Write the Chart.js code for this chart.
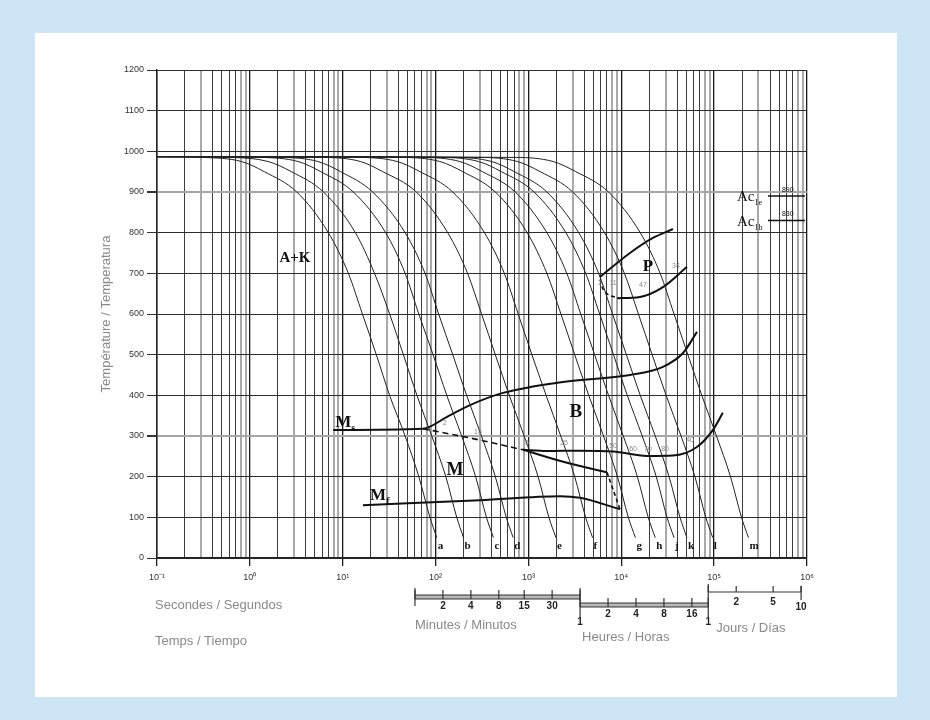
<!DOCTYPE html>
<html>
<head>
<meta charset="utf-8">
<script src="https://cdn.jsdelivr.net/npm/chart.js@4.4.1/dist/chart.umd.min.js"></script>
<style>
  html, body { margin: 0; padding: 0; }
  body { width: 930px; height: 720px; background: #cde5f5; position: relative; overflow: hidden; }
  #panel { position: absolute; left: 35px; top: 33px; width: 862px; height: 664px; background: #fff; }
  #wrap { position: absolute; left: 0; top: 0; width: 930px; height: 720px; }
</style>
</head>
<body>
<div id="panel"></div>
<div id="wrap"><canvas id="cct" width="930" height="720"></canvas></div>
<script>
// temperatures (°C) shared by all cooling curves
const coolTemps = [987, 985, 975, 950, 900, 800, 700, 600, 500, 400, 300, 200, 100, 50];

// times (s) of each cooling curve at those temperatures
const curveNames = ['a', 'b', 'c', 'd', 'e', 'f', 'g', 'h', 'j', 'k', 'l', 'm'];
const curveA = [0.1, 0.32, 0.81, 1.43, 3.2, 7.0, 11.5, 16.3, 23, 32, 47, 66, 87, 103];
const curveB = [0.1, 0.63, 1.57, 2.8, 6.2, 13.7, 22, 32, 45, 63, 91, 129, 169, 200];
const curveC = [0.1, 1.3, 3.3, 5.8, 13, 29, 47, 66, 94, 132, 191, 270, 353, 420];
const curveD = [0.1, 2.2, 5.4, 9.5, 21, 47, 77, 108, 153, 216, 312, 440, 577, 685];
const curveE = [0.1, 6.2, 15.5, 27, 62, 135, 221, 313, 440, 622, 900, 1270, 1660, 1980];
const curveF = [0.1, 15, 38.5, 68, 153, 336, 550, 776, 1090, 1550, 2230, 3150, 4130, 4910];
const curveG = [0.1, 44, 111, 196, 440, 970, 1580, 2240, 3150, 4460, 6440, 9100, 11900, 14200];
const curveH = [0.1, 73, 182, 320, 720, 1580, 2590, 3660, 5160, 7290, 10500, 14900, 19500, 23200];
const curveJ = [0.1, 116, 290, 512, 1150, 2530, 4140, 5850, 8240, 11600, 16800, 23800, 31100, 37000];
const curveK = [0.1, 160, 400, 705, 1580, 3480, 5700, 8050, 11350, 16000, 23200, 32700, 42900, 50900];
const curveL = [0.1, 300, 760, 1340, 3000, 6600, 10800, 15300, 21500, 30400, 44000, 62100, 81300, 96600];
const curveM = [0.1, 740, 1840, 3240, 7280, 16000, 26200, 37000, 52100, 73600, 106000, 150000, 197000, 234000];
const curveTimes = [curveA, curveB, curveC, curveD, curveE, curveF, curveG, curveH, curveJ, curveK, curveL, curveM];

// transformation lines
const msTimes = [7.9, 73, 133, 235, 532, 2360, 12400, 28100, 46200, 65300];
const msTemps = [315, 318, 347, 376, 406, 433, 450, 470, 504, 556];
const msDashTimes = [73, 301, 874];
const msDashTemps = [318, 290, 266];
const bUpperTimes = [874, 1580, 3590, 8140, 18900, 36000, 65300, 97200, 124000];
const bUpperTemps = [266, 263, 264, 262, 251, 252, 273, 315, 357];
const bLowerTimes = [874, 2600, 7010];
const bLowerTemps = [266, 234, 211];
const bDashTimes = [7010, 9680];
const bDashTemps = [211, 120];
const mfTimes = [16.5, 301, 2190, 3590, 9680];
const mfTemps = [130, 142, 152, 148, 120];
const pStartTimes = [5900, 12400, 21900, 36000];
const pStartTemps = [691, 750, 787, 809];
const pEndDashTimes = [5900, 6350, 9000];
const pEndDashTemps = [685, 662, 639];
const pEndTimes = [9000, 15900, 28100, 51000];
const pEndTemps = [639, 642, 666, 716];
const acTimes = [380000, 950000];
const ac1eTemp = 890;
const ac1bTemp = 830;

// axes
const xDecades = [0.1, 1, 10, 100, 1000, 10000, 100000, 1000000];
const xDecadeLabels = ['10\u207B\u00B9', '10\u2070', '10\u00B9', '10\u00B2', '10\u00B3', '10\u2074', '10\u2075', '10\u2076'];
const minuteSecs = [60, 120, 240, 480, 900, 1800, 3600];
const minuteLabels = ['', '2', '4', '8', '15', '30', ''];
const hourSecs = [3600, 7200, 14400, 28800, 57600, 86400];
const hourLabels = ['1', '2', '4', '8', '16', ''];
const daySecs = [86400, 172800, 432000, 864000];
const dayLabels = ['1', '2', '5', '10'];

// small percentage marks
const pctMarks = [
  { t: 5900, T: 676, s: '2' }, { t: 8150, T: 676, s: '11' }, { t: 17100, T: 671, s: '47' }, { t: 38800, T: 718, s: '34' },
  { t: 126, T: 332, s: '2' }, { t: 286, T: 310, s: '15' }, { t: 966, T: 283, s: '5' }, { t: 2420, T: 283, s: '25' },
  { t: 8150, T: 275, s: '50' }, { t: 13400, T: 268, s: '60' }, { t: 19400, T: 268, s: '70' }, { t: 29600, T: 268, s: '80' },
  { t: 55000, T: 290, s: '40' }
];

const xGridVals = [];
xDecades.slice(0, -1).forEach(d => { for (let m = 1; m < 10; m++) xGridVals.push(d * m); });
xGridVals.push(1000000);

function mantissa(v) {
  const e = Math.floor(Math.log10(v) + 1e-9);
  return Math.round(v / Math.pow(10, e));
}

function line(label, xs, ys, extra) {
  return Object.assign({
    label: label,
    data: xs.map((x, i) => ({ x: x, y: ys[i] })),
    showLine: true,
    pointRadius: 0,
    borderColor: '#222',
    borderWidth: 1,
    cubicInterpolationMode: 'monotone'
  }, extra || {});
}

const datasets = curveTimes.map((ts, i) => line(curveNames[i], ts, coolTemps));
const thick = { borderColor: '#111', borderWidth: 2 };
datasets.push(line('Ms', msTimes, msTemps, thick));
datasets.push(line('Ms dash', msDashTimes, msDashTemps, { borderColor: '#111', borderWidth: 1.6, borderDash: [6, 4] }));
datasets.push(line('B upper', bUpperTimes, bUpperTemps, thick));
datasets.push(line('B lower', bLowerTimes, bLowerTemps, thick));
datasets.push(line('B dash', bDashTimes, bDashTemps, { borderColor: '#111', borderWidth: 1.6, borderDash: [4, 3] }));
datasets.push(line('Mf', mfTimes, mfTemps, thick));
datasets.push(line('P start', pStartTimes, pStartTemps, thick));
datasets.push(line('P end dash', pEndDashTimes, pEndDashTemps, { borderColor: '#111', borderWidth: 1.6, borderDash: [4, 3] }));
datasets.push(line('P end', pEndTimes, pEndTemps, thick));
datasets.push(line('Ac1e', acTimes, [ac1eTemp, ac1eTemp], { borderColor: '#111', borderWidth: 1.6, cubicInterpolationMode: 'default' }));
datasets.push(line('Ac1b', acTimes, [ac1bTemp, ac1bTemp], { borderColor: '#111', borderWidth: 1.6, cubicInterpolationMode: 'default' }));

const SERIF = '"Liberation Serif", "DejaVu Serif", serif';
const SANS = '"Liberation Sans", Arial, sans-serif';

function subText(ctx, main, sub, px, py, size, subSize) {
  ctx.font = 'bold ' + size + 'px ' + SERIF;
  ctx.textAlign = 'left';
  ctx.textBaseline = 'alphabetic';
  ctx.fillText(main, px, py);
  const w = ctx.measureText(main).width;
  ctx.font = 'bold ' + subSize + 'px ' + SERIF;
  ctx.fillText(sub, px + w, py + subSize * 0.4);
}

const annotations = {
  id: 'annotations',
  afterDatasetsDraw(chart) {
    const ctx = chart.ctx;
    const x = chart.scales.x, y = chart.scales.y;
    ctx.save();
    ctx.fillStyle = '#111';

    // curve letters
    ctx.font = 'bold 11px ' + SERIF;
    ctx.textAlign = 'left';
    ctx.textBaseline = 'middle';
    curveTimes.forEach((ts, i) => {
      ctx.fillText(curveNames[i], x.getPixelForValue(ts[ts.length - 1]) + 1, y.getPixelForValue(30));
    });

    // region labels
    ctx.textAlign = 'center';
    ctx.textBaseline = 'middle';
    ctx.font = 'bold 15px ' + SERIF;
    ctx.fillText('A+K', x.getPixelForValue(3.06), y.getPixelForValue(738));
    ctx.font = 'bold 17px ' + SERIF;
    ctx.fillText('P', x.getPixelForValue(19400), y.getPixelForValue(716));
    ctx.font = 'bold 19px ' + SERIF;
    ctx.fillText('B', x.getPixelForValue(3250), y.getPixelForValue(359));
    ctx.font = 'bold 18px ' + SERIF;
    ctx.fillText('M', x.getPixelForValue(162), y.getPixelForValue(216));

    subText(ctx, 'M', 's', x.getPixelForValue(8.3), y.getPixelForValue(322), 17, 10);
    subText(ctx, 'M', 'f', x.getPixelForValue(19.7), y.getPixelForValue(143), 17, 11);

    // Ac labels
    ctx.textAlign = 'left';
    ctx.textBaseline = 'alphabetic';
    const acX = x.getPixelForValue(176000);
    [[ac1eTemp, 878, '1e'], [ac1bTemp, 816, '1b']].forEach(a => {
      const py = y.getPixelForValue(a[1]);
      ctx.font = '15px ' + SERIF;
      ctx.fillText('Ac', acX, py);
      const w = ctx.measureText('Ac').width;
      ctx.font = '8px ' + SERIF;
      ctx.fillText(a[2], acX + w, py + 4);
      ctx.font = '7px ' + SANS;
      ctx.textAlign = 'center';
      ctx.fillText(String(a[0]), x.getPixelForValue(620000), y.getPixelForValue(a[0]) - 4);
      ctx.textAlign = 'left';
    });

    // small percentage marks
    ctx.fillStyle = '#8a8a8a';
    ctx.font = '7px ' + SANS;
    ctx.textAlign = 'center';
    ctx.textBaseline = 'middle';
    pctMarks.forEach(p => ctx.fillText(p.s, x.getPixelForValue(p.t), y.getPixelForValue(p.T)));

    // y axis title
    ctx.fillStyle = '#8a8a8a';
    ctx.font = '13px ' + SANS;
    ctx.translate(106, (y.top + y.bottom) / 2);
    ctx.rotate(-Math.PI / 2);
    ctx.fillText('Température / Temperatura', 0, 0);
    ctx.restore();

    // secondary time scales below the axis
    ctx.save();
    ctx.strokeStyle = '#333';
    ctx.fillStyle = '#222';
    ctx.lineWidth = 1.2;
    const px = v => x.getPixelForValue(v);
    function band(x0, x1, yy) {
      ctx.fillStyle = '#b8b8b8';
      ctx.fillRect(x0, yy - 2, x1 - x0, 4);
      ctx.beginPath();
      ctx.moveTo(x0, yy - 2); ctx.lineTo(x1, yy - 2);
      ctx.moveTo(x0, yy + 2); ctx.lineTo(x1, yy + 2);
      ctx.stroke();
      ctx.fillStyle = '#222';
    }
    function vline(xx, y0, y1) {
      ctx.beginPath(); ctx.moveTo(xx, y0); ctx.lineTo(xx, y1); ctx.stroke();
    }
    // minutes
    const mY = 597;
    band(px(minuteSecs[0]), px(minuteSecs[minuteSecs.length - 1]), mY);
    ctx.font = 'bold 10px ' + SANS;
    ctx.textAlign = 'center';
    ctx.textBaseline = 'top';
    minuteSecs.forEach((s, i) => {
      vline(px(s), mY - 7, mY + 2);
      if (minuteLabels[i]) ctx.fillText(minuteLabels[i], px(s), mY + 4);
    });
    vline(px(minuteSecs[0]), mY - 9, mY + 9);
    // hours
    const hY = 605;
    band(px(hourSecs[0]), px(hourSecs[hourSecs.length - 1]), hY);
    hourSecs.forEach((s, i) => {
      vline(px(s), hY - 7, hY + 2);
      if (i > 0 && hourLabels[i]) ctx.fillText(hourLabels[i], px(s), hY + 4);
    });
    vline(px(hourSecs[0]), mY - 9, hY + 12);
    ctx.fillText(hourLabels[0], px(hourSecs[0]), hY + 12);
    // days
    const dY = 592;
    ctx.beginPath(); ctx.moveTo(px(daySecs[0]), dY); ctx.lineTo(px(daySecs[daySecs.length - 1]), dY); ctx.stroke();
    daySecs.forEach((s, i) => {
      vline(px(s), dY - 6, dY);
      if (i > 0 && i < daySecs.length - 1) ctx.fillText(dayLabels[i], px(s), dY + 5);
    });
    vline(px(daySecs[daySecs.length - 1]), dY - 6, dY + 8);
    ctx.fillText(dayLabels[daySecs.length - 1], px(daySecs[daySecs.length - 1]), dY + 10);
    vline(px(daySecs[0]), dY - 8, hY + 12);
    ctx.fillText(dayLabels[0], px(daySecs[0]), hY + 12);

    // scale captions
    ctx.fillStyle = '#8a8a8a';
    ctx.font = '13px ' + SANS;
    ctx.textAlign = 'left';
    ctx.textBaseline = 'middle';
    ctx.fillText('Secondes / Segundos', x.left - 2, 605);
    ctx.fillText('Temps / Tiempo', x.left - 2, 641);
    ctx.fillText('Minutes / Minutos', px(minuteSecs[0]), 625);
    ctx.fillText('Heures / Horas', px(hourSecs[0]) + 2, 637);
    ctx.fillText('Jours / Días', px(daySecs[0]) + 8, 628);
    ctx.restore();
  }
};

new Chart(document.getElementById('cct'), {
  type: 'scatter',
  data: { datasets: datasets },
  options: {
    responsive: false,
    devicePixelRatio: 1,
    animation: false,
    layout: { padding: { left: 0, right: 123, top: 70, bottom: 0 } },
    plugins: { legend: { display: false }, tooltip: { enabled: false } },
    scales: {
      x: {
        type: 'logarithmic',
        min: 0.1,
        max: 1000000,
        afterBuildTicks: s => { s.ticks = xGridVals.map(v => ({ value: v })); },
        afterFit: s => { s.height = 162; },
        ticks: {
          autoSkip: false,
          maxRotation: 0,
          padding: 6,
          color: '#333',
          font: { family: SANS, size: 9 },
          callback: v => {
            const i = xDecades.findIndex(d => Math.abs(Math.log10(d) - Math.log10(v)) < 1e-6);
            return i >= 0 ? xDecadeLabels[i] : '';
          }
        },
        grid: {
          tickLength: 8,
          color: c => {
            const m = mantissa(c.tick.value);
            if (m === 1) return '#1a1a1a';
            if (m === 3 || m === 8 || m === 9) return '#a9a9a9';
            return '#3c3c3c';
          },
          lineWidth: c => {
            const m = mantissa(c.tick.value);
            if (m === 1) return 1.3;
            if (m === 3 || m === 8 || m === 9) return 2;
            return 1;
          },
          tickColor: c => (mantissa(c.tick.value) === 1 ? '#222' : 'rgba(0,0,0,0)')
        },
        border: { color: '#222', width: 1.5 }
      },
      y: {
        min: 0,
        max: 1200,
        afterFit: s => { s.width = 157; },
        ticks: {
          stepSize: 100,
          padding: 3,
          color: '#333',
          font: { family: SANS, size: 9 },
          callback: v => String(v)
        },
        grid: {
          tickLength: 10,
          color: c => (c.tick.value === 300 || c.tick.value === 900 ? '#a6a6a6' : '#2c2c2c'),
          lineWidth: c => (c.tick.value === 300 || c.tick.value === 900 ? 2 : 1),
          tickColor: '#333'
        },
        border: { color: '#222', width: 1.5 }
      }
    }
  },
  plugins: [annotations]
});
</script>
</body>
</html>
